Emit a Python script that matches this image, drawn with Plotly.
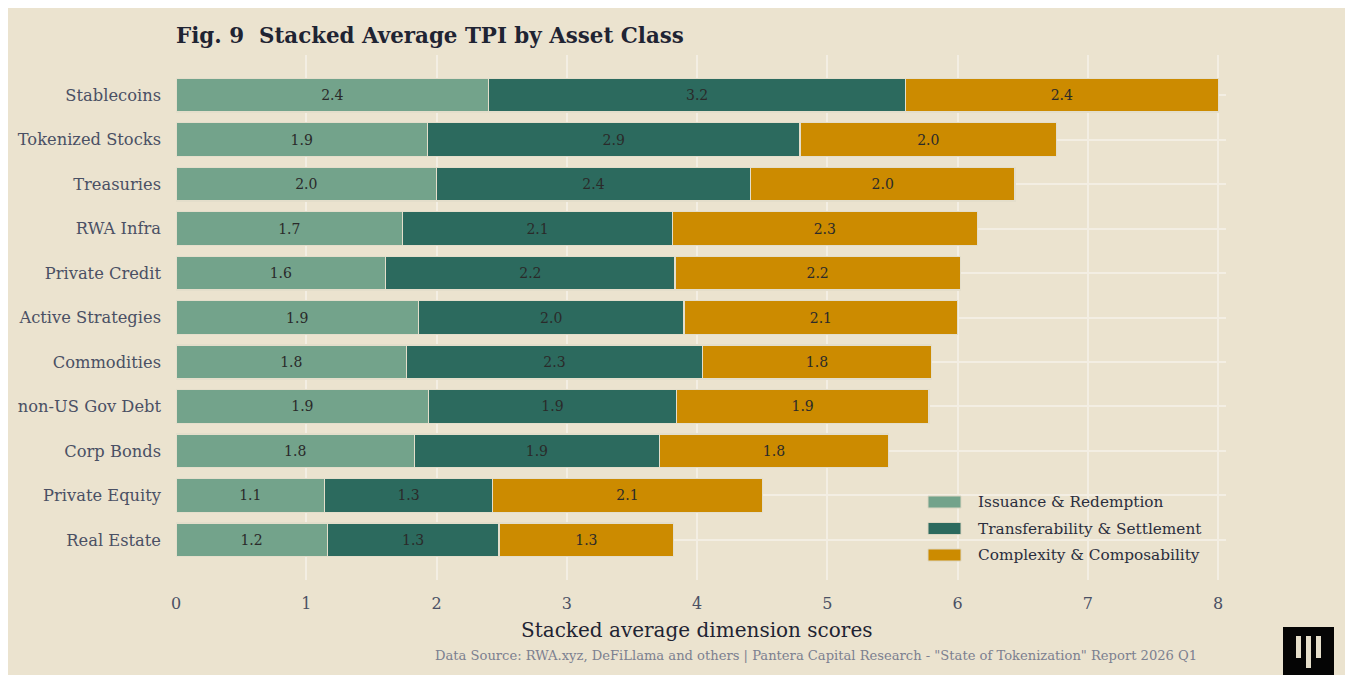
import plotly.graph_objects as go

categories = ["Stablecoins", "Tokenized Stocks", "Treasuries", "RWA Infra", "Private Credit",
              "Active Strategies", "Commodities", "non-US Gov Debt", "Corp Bonds",
              "Private Equity", "Real Estate"]
issuance = [2.40, 1.93, 2.00, 1.74, 1.61, 1.86, 1.77, 1.94, 1.83, 1.14, 1.16]
transfer = [3.20, 2.86, 2.41, 2.07, 2.22, 2.04, 2.27, 1.90, 1.88, 1.29, 1.32]
complexity = [2.40, 1.97, 2.03, 2.34, 2.19, 2.10, 1.76, 1.94, 1.76, 2.07, 1.34]
series_names = ["Issuance & Redemption", "Transferability & Settlement", "Complexity & Composability"]
x_ticks = [0, 1, 2, 3, 4, 5, 6, 7, 8]

BG = "#EBE3CF"
COLORS = ["#73A38B", "#2C6A5E", "#CC8B00"]
FONT = "Georgia, 'DejaVu Serif', serif"
TICK_COLOR = "#4A5064"

OFF = 8  # page body margin
W, H = 1360, 680
L = 176 - OFF
R = W - (1226 - OFF)
T = 55 - OFF
B = H - (580 - OFF)
PW, PH = W - L - R, H - T - B

def px(x):
    return (x - OFF - L) / PW

def py(y):
    return (H - B - (y - OFF)) / PH

fig = go.Figure()
for name, vals, col in zip(series_names, [issuance, transfer, complexity], COLORS):
    fig.add_trace(go.Bar(
        y=categories, x=vals, name=name, orientation="h",
        marker=dict(color=col, line=dict(color="#E4DECB", width=1.2)),
        texttemplate="%{x:.1f}", textposition="inside", insidetextanchor="middle",
        textangle=0, constraintext="none",
        textfont=dict(family=FONT, size=14, color="#2A2A2A"),
        showlegend=False, hoverinfo="x+y",
    ))

fig.update_layout(
    width=W, height=H, barmode="stack", bargap=0.24,
    paper_bgcolor=BG, plot_bgcolor=BG,
    margin=dict(l=L, r=R, t=T, b=B, autoexpand=False),
    font=dict(family=FONT, color=TICK_COLOR),
    title=dict(text="<b>Fig. 9  Stacked Average TPI by Asset Class</b>",
               font=dict(family=FONT, size=21.4, color="#1F2433"),
               xref="paper", x=0, xanchor="left",
               yref="container", y=1 - (36 - OFF) / H, yanchor="middle"),
    xaxis=dict(range=[0, 8.06], tickvals=x_ticks, showgrid=True, gridcolor="#F3EEE3",
               gridwidth=2, zeroline=False, showline=False, ticks="",
               ticklabelstandoff=12, tickfont=dict(size=16, color=TICK_COLOR)),
    yaxis=dict(categoryorder="array", categoryarray=categories[::-1],
               range=[-0.9, 10.9], showgrid=True, gridcolor="#F3EEE3", gridwidth=2,
               zeroline=False, showline=False, ticks="", ticklabelstandoff=14,
               tickfont=dict(size=16.3, color=TICK_COLOR)),
)

# x-axis title and caption
fig.add_annotation(text="Stacked average dimension scores", xref="paper", yref="paper",
                   x=px(697), y=py(630), xanchor="center", yanchor="middle", showarrow=False,
                   font=dict(family=FONT, size=20, color="#1F2433"))
fig.add_annotation(text='Data Source: RWA.xyz, DeFiLlama and others | Pantera Capital Research - "State of Tokenization" Report 2026 Q1',
                   xref="paper", yref="paper", x=px(1199), y=py(655), xanchor="right",
                   yanchor="middle", showarrow=False,
                   font=dict(family=FONT, size=13.1, color="#7C8090"))

# custom legend
leg_y = [502, 528.5, 555]
for name, col, yc in zip(series_names, COLORS, leg_y):
    fig.add_shape(type="rect", xref="paper", yref="paper",
                  x0=px(928), x1=px(961), y0=py(yc + 6), y1=py(yc - 6),
                  fillcolor=col, line=dict(color="#DCD6C2", width=1))
    fig.add_annotation(text=name, xref="paper", yref="paper", x=px(976), y=py(yc),
                       xanchor="left", yanchor="middle", showarrow=False,
                       font=dict(family=FONT, size=15.3, color="#2A2E3D"))

# logo
fig.add_shape(type="rect", xref="paper", yref="paper", x0=px(1283), x1=px(1334),
              y0=py(690), y1=py(627), fillcolor="#050505", line=dict(width=0))
for x0, y1 in [(1296, 658), (1306, 668), (1316, 658)]:
    fig.add_shape(type="rect", xref="paper", yref="paper", x0=px(x0), x1=px(x0 + 5),
                  y0=py(y1), y1=py(636), fillcolor="#E6DFCB", line=dict(width=0))

fig.write_html("out.html",
               post_script="document.documentElement.style.overflow='hidden';"
                           "document.body.style.overflow='hidden';")
